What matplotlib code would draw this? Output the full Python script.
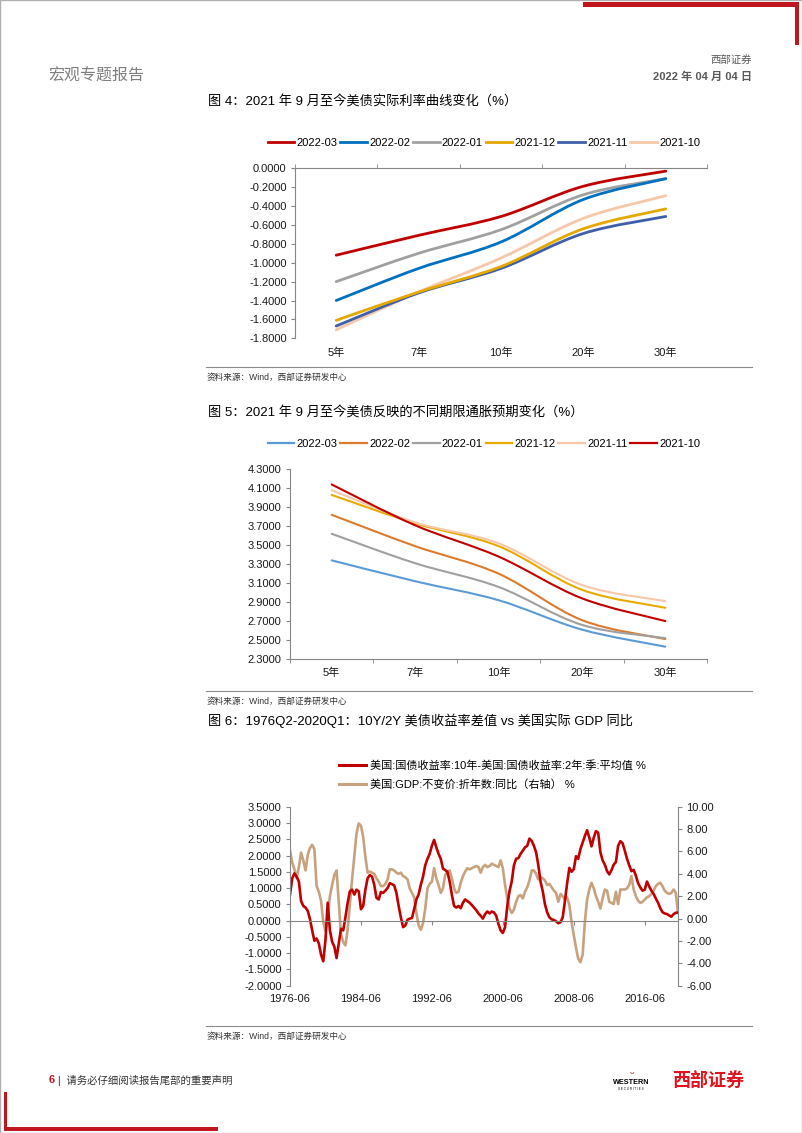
import numpy as np
import matplotlib.pyplot as plt
from matplotlib.path import Path
from matplotlib.patches import PathPatch, Rectangle
from matplotlib.lines import Line2D
from matplotlib.ticker import FormatStrFormatter, FuncFormatter

plt.rcParams['font.family'] = ['Liberation Sans', 'Noto Sans CJK SC']

W, H = 802, 1133

''' DATA '''

# chart 4: real yield curve by month
tenors = ['5年', '7年', '10年', '20年', '30年']
real_names = ['2022-03', '2022-02', '2022-01', '2021-12', '2021-11', '2021-10']
real_2203 = [-0.92, -0.71, -0.51, -0.19, -0.03]
real_2202 = [-1.40, -1.06, -0.78, -0.33, -0.11]
real_2201 = [-1.20, -0.90, -0.65, -0.28, -0.11]
real_2112 = [-1.61, -1.31, -1.04, -0.64, -0.43]
real_2111 = [-1.67, -1.32, -1.06, -0.69, -0.51]
real_2110 = [-1.71, -1.31, -0.95, -0.53, -0.29]
real_colors = ['#C00000', '#0070C0', '#A0A0A0', '#E5A800', '#3F5FAA', '#F7C7AA']

# chart 5: breakeven inflation by month
infl_names = ['2022-03', '2022-02', '2022-01', '2021-12', '2021-11', '2021-10']
infl_2203 = [3.34, 3.12, 2.92, 2.61, 2.43]
infl_2202 = [3.82, 3.49, 3.20, 2.71, 2.51]
infl_2201 = [3.62, 3.31, 3.06, 2.66, 2.52]
infl_2112 = [4.03, 3.73, 3.49, 3.03, 2.84]
infl_2111 = [4.08, 3.74, 3.52, 3.08, 2.91]
infl_2110 = [4.14, 3.71, 3.38, 2.94, 2.70]
infl_colors = ['#5B9BD5', '#DC7A2E', '#A0A0A0', '#E8AA00', '#F7C7AA', '#C00000']

# chart 6: quarterly 1976Q2 - 2020Q1
spread_10y2y = [
    0.80, 1.30, 1.45, 1.35, 1.20, 0.60, 0.45, 0.40, 0.30, 0.05,
    -0.30, -0.62, -0.55, -0.70, -1.05, -1.25, -0.60, 0.55, -0.30, -0.65,
    -0.80, -1.15, -0.70, -0.25, -0.30, 0.10, 0.55, 0.90, 0.95, 0.80,
    0.95, 0.90, 0.35, 0.45, 0.95, 1.30, 1.40, 1.35, 1.10, 0.70,
    0.65, 0.88, 0.85, 0.92, 1.00, 1.15, 1.12, 1.08, 0.85, 0.45,
    0.10, -0.20, -0.15, 0.03, 0.06, 0.08, 0.35, 0.65, 0.80, 1.10,
    1.35, 1.70, 1.90, 2.05, 2.30, 2.48, 2.25, 2.05, 1.90, 1.60,
    1.55, 1.50, 1.20, 0.80, 0.45, 0.40, 0.45, 0.38, 0.55, 0.65,
    0.60, 0.55, 0.48, 0.40, 0.32, 0.22, 0.15, 0.06, 0.20, 0.28,
    0.22, 0.28, 0.25, 0.15, -0.10, -0.30, -0.38, -0.20, 0.45, 0.90,
    1.20, 1.70, 1.90, 1.92, 2.05, 2.15, 2.25, 2.30, 2.52, 2.45,
    2.30, 2.10, 1.70, 1.20, 0.90, 0.50, 0.25, 0.10, 0.04, 0.02,
    -0.02, -0.08, -0.05, 0.10, 0.60, 1.15, 1.62, 1.50, 1.58, 1.98,
    1.90, 2.20, 2.40, 2.60, 2.78, 2.55, 2.28, 2.55, 2.75, 2.70,
    2.10, 1.85, 1.72, 1.52, 1.42, 1.55, 1.72, 1.80, 2.30, 2.44,
    2.38, 2.15, 1.90, 1.70, 1.52, 1.56, 1.38, 1.15, 1.02, 0.92,
    0.95, 1.20, 1.05, 0.92, 0.82, 0.68, 0.55, 0.38, 0.26, 0.22,
    0.20, 0.16, 0.12, 0.20, 0.24, 0.25,
]
gdp_yoy = [
    6.1, 5.0, 4.4, 3.6, 4.6, 5.9, 5.2, 4.3, 5.7, 6.3,
    6.6, 6.2, 2.9, 2.4, 1.6, -0.3, -1.1, 0.2, 2.0, 3.0,
    3.9, 4.3, 1.5, -1.4, -2.1, -2.4, -1.0, 1.3, 3.5, 5.5,
    7.6, 8.5, 8.3, 7.3, 5.5, 4.1, 4.2, 4.1, 4.0, 3.6,
    3.3, 2.9, 2.9, 3.1, 3.5, 4.4, 4.4, 4.3, 4.1, 4.0,
    4.1, 3.8, 3.7, 3.5, 2.7, 2.3, 1.9, 0.5, -0.6, -1.0,
    -0.4, 0.9, 2.7, 3.1, 3.3, 4.5, 3.6, 3.0, 2.3, 2.7,
    3.9, 4.2, 4.3, 3.6, 2.7, 2.3, 2.4, 3.2, 3.8, 4.2,
    4.5, 4.4, 4.5, 4.6, 4.7, 4.6, 4.1, 4.6, 4.8, 4.6,
    4.7, 4.9, 4.8, 4.7, 4.6, 5.2, 4.5, 3.0, 1.8, 0.9,
    0.5, 0.8, 1.5, 2.0, 2.1, 1.8, 2.4, 2.8, 3.4, 4.3,
    4.3, 4.0, 3.5, 3.7, 3.6, 3.4, 3.0, 3.1, 2.8, 2.5,
    2.3, 1.5, 2.2, 2.0, 1.7, 1.9, 1.2, -0.3, -1.5, -2.6,
    -3.6, -3.9, -3.2, -0.3, 1.7, 2.6, 3.2, 2.7, 2.0, 1.5,
    0.9, 1.8, 2.6, 2.5, 1.5, 1.4, 1.3, 2.4, 1.3, 2.6,
    2.6, 2.6, 2.7, 3.0, 3.8, 2.6, 2.0, 1.6, 1.4, 1.5,
    1.7, 1.9, 2.0, 2.2, 2.5, 2.9, 3.1, 3.2, 2.9, 2.5,
    2.3, 2.2, 2.3, 2.6, 2.3, 0.5,
]
date_labels = ['1976-06', '1984-06', '1992-06', '2000-06', '2008-06', '2016-06']
spread_name = '美国:国债收益率:10年-美国:国债收益率:2年:季:平均值 %'
gdp_name = '美国:GDP:不变价:折年数:同比（右轴） %'

AXC = '#868686'
TXT = '#1a1a1a'
four_dp = FuncFormatter(lambda v, _: f'{round(v, 4) + 0:.4f}')


def px_axes(fig, left, top, right, bottom):
    return fig.add_axes([left / W, 1 - bottom / H, (right - left) / W, (bottom - top) / H])


def smooth_path(xs, ys):
    # excel style smoothed line: cubic bezier through the points
    pts = np.column_stack([xs, ys]).astype(float)
    n = len(pts)
    verts = [pts[0]]
    codes = [Path.MOVETO]
    for i in range(n - 1):
        p0 = pts[i - 1] if i > 0 else pts[i]
        p1 = pts[i]
        p2 = pts[i + 1]
        p3 = pts[i + 2] if i + 2 < n else pts[i + 1]
        verts += [p1 + (p2 - p0) / 6, p2 - (p3 - p1) / 6, p2]
        codes += [Path.CURVE4] * 3
    return Path(verts, codes)


def category_axis(ax, zero_top):
    ax.set_xlim(-0.5, len(tenors) - 0.5)
    ax.set_xticks(range(len(tenors)))
    ax.set_xticklabels(tenors)
    ax.set_xticks(np.arange(len(tenors) + 1) - 0.5, minor=True)
    ax.tick_params(axis='x', which='major', bottom=False, top=False, labelbottom=True,
                   labelsize=8, colors=TXT, pad=3)
    ax.tick_params(axis='x', which='minor', bottom=not zero_top, top=zero_top,
                   direction='out', length=3, color=AXC)
    for s in ['top', 'bottom', 'right', 'left']:
        ax.spines[s].set_visible(False)
    ax.spines['left'].set_visible(True)
    ax.spines['top' if zero_top else 'bottom'].set_visible(True)
    for s in ax.spines.values():
        s.set_color(AXC)
        s.set_linewidth(0.8)
    ax.tick_params(axis='y', direction='out', length=3, color=AXC, labelsize=8,
                   labelcolor=TXT, pad=3)
    ax.yaxis.set_major_formatter(four_dp)


fig = plt.figure(figsize=(W / 100, H / 100), dpi=100)

''' PAGE DECORATION '''

fig.patches.append(Rectangle((0, 0), 1, 1, transform=fig.transFigure, fill=False,
                             edgecolor='#B0B0B0', lw=1.0))
fig.patches.append(Rectangle((583 / W, 1 - 7 / H), 216 / W, 5 / H, transform=fig.transFigure,
                             color='#C0161E', lw=0))
fig.patches.append(Rectangle((795 / W, 1 - 45 / H), 4 / W, 43 / H, transform=fig.transFigure,
                             color='#C0161E', lw=0))
fig.patches.append(Rectangle((4 / W, 1 - 1131 / H), 3 / W, 39 / H, transform=fig.transFigure,
                             color='#C0161E', lw=0))
fig.patches.append(Rectangle((4 / W, 1 - 1131 / H), 214 / W, 4 / H, transform=fig.transFigure,
                             color='#C0161E', lw=0))

fig.text(48 / W, 1 - 76 / H, '宏观专题报告', fontsize=11.5, color='#7F7F7F', va='center',
         family=['Noto Sans CJK SC'])
fig.text(752 / W, 1 - 60 / H, '西部证券', fontsize=7.5, color='#595959', va='center', ha='right')
fig.text(752 / W, 1 - 77 / H, '2022 年 04 月 04 日', fontsize=8, color='#595959', va='center',
         ha='right', weight='bold')

fig.text(208 / W, 1 - 102 / H, '图 4：2021 年 9 月至今美债实际利率曲线变化（%）',
         fontsize=9.5, color='black', va='center')
fig.text(208 / W, 1 - 413 / H, '图 5：2021 年 9 月至今美债反映的不同期限通胀预期变化（%）',
         fontsize=9.5, color='black', va='center')
fig.text(208 / W, 1 - 721 / H, '图 6：1976Q2-2020Q1：10Y/2Y 美债收益率差值 vs 美国实际 GDP 同比',
         fontsize=9.5, color='black', va='center')

for ly in [367, 691, 1026]:
    fig.add_artist(Line2D([206 / W, 752 / W], [1 - ly / H, 1 - ly / H], color='#8C8C8C', lw=0.8))
for sy in [377, 701, 1036]:
    fig.text(207 / W, 1 - sy / H, '资料来源：Wind，西部证券研发中心', fontsize=6.2,
             color='#333333', va='center')

fig.text(49 / W, 1 - 1080 / H, '6', fontsize=8, color='#C0161E', weight='bold', va='center')
fig.text(58 / W, 1 - 1080 / H, '|  请务必仔细阅读报告尾部的重要声明', fontsize=7.5, color='#333333',
         va='center')
fig.text(631 / W, 1 - 1083 / H, 'WESTERN', fontsize=5.2, color='black', weight='bold',
         va='center', ha='center')
fig.text(631 / W, 1 - 1089 / H, 'S E C U R I T I E S', fontsize=2.2, color='black',
         va='center', ha='center')
fig.text(632 / W, 1 - 1075 / H, 'ᵕ', fontsize=9, color='#C0161E', va='center', ha='center',
         family=['DejaVu Sans'])
fig.text(708 / W, 1 - 1080 / H, '西部证券', fontsize=13, color='#E0141E', weight='bold',
         va='center', ha='center', family=['Noto Sans CJK SC'])

''' CHART 4 '''

ax1 = px_axes(fig, 295, 168.3, 707, 338.3)
real_series = [real_2203, real_2202, real_2201, real_2112, real_2111, real_2110]
x = np.arange(len(tenors))
for vals, col in zip(real_series[::-1], real_colors[::-1]):
    ax1.add_patch(PathPatch(smooth_path(x, vals), fill=False, edgecolor=col, lw=2.0,
                            capstyle='round', joinstyle='round'))
ax1.set_ylim(-1.8, 0)
ax1.set_yticks(np.round(np.arange(-1.8, 0.01, 0.2), 1))
category_axis(ax1, zero_top=True)
h1 = [Line2D([], [], color=c, lw=2.0) for c in real_colors]
fig.legend(h1, real_names, loc='center', bbox_to_anchor=(484 / W, 1 - 143 / H), ncol=6,
           frameon=False, fontsize=8, handlelength=2.4, handletextpad=0.2, columnspacing=0.25,
           borderpad=0)

''' CHART 5 '''

ax2 = px_axes(fig, 290, 469.3, 707, 659)
infl_series = [infl_2203, infl_2202, infl_2201, infl_2112, infl_2111, infl_2110]
for vals, col in zip(infl_series, infl_colors):
    ax2.add_patch(PathPatch(smooth_path(x, vals), fill=False, edgecolor=col, lw=1.5,
                            capstyle='round', joinstyle='round'))
ax2.set_ylim(2.3, 4.3)
ax2.set_yticks(np.round(np.arange(2.3, 4.31, 0.2), 1))
category_axis(ax2, zero_top=False)
h2 = [Line2D([], [], color=c, lw=1.6) for c in infl_colors]
fig.legend(h2, infl_names, loc='center', bbox_to_anchor=(484 / W, 1 - 444 / H), ncol=6,
           frameon=False, fontsize=8, handlelength=2.4, handletextpad=0.2, columnspacing=0.25,
           borderpad=0)

''' CHART 6 '''

ax3 = px_axes(fig, 290, 806.7, 678, 985.7)
ax3r = ax3.twinx()
q = np.arange(len(spread_10y2y))
ax3.plot(q, spread_10y2y, color='#C00000', lw=1.9, solid_joinstyle='round')
ax3r.plot(np.arange(len(gdp_yoy)), gdp_yoy, color='#C8A27F', lw=1.9, solid_joinstyle='round')
ax3.set_zorder(ax3r.get_zorder() + 1)
ax3.patch.set_visible(False)

ax3.set_xlim(0, len(q) - 1)
ax3.set_ylim(-2.0, 3.5)
ax3.set_yticks(np.arange(-2.0, 3.51, 0.5))
ax3.yaxis.set_major_formatter(four_dp)
ax3r.set_ylim(-6, 10)
ax3r.set_yticks(np.arange(-6, 10.1, 2))
ax3r.yaxis.set_major_formatter(FormatStrFormatter('%.2f'))
ax3.set_xticks(np.arange(len(date_labels)) * 32)
ax3.set_xticklabels(date_labels)

ax3.spines['top'].set_position(('data', 0))
ax3.spines['bottom'].set_visible(False)
ax3.spines['right'].set_visible(False)
for s in ['top', 'bottom', 'left']:
    ax3r.spines[s].set_visible(False)
for s in list(ax3.spines.values()) + list(ax3r.spines.values()):
    s.set_color(AXC)
    s.set_linewidth(0.8)
ax3.tick_params(axis='x', bottom=False, top=True, labelbottom=True, labeltop=False,
                direction='in', length=3, color=AXC, labelsize=8, labelcolor=TXT, pad=6)
ax3.tick_params(axis='y', direction='out', length=3, color=AXC, labelsize=8, labelcolor=TXT, pad=3)
ax3r.tick_params(axis='y', direction='out', length=3, color=AXC, labelsize=8, labelcolor=TXT, pad=3)

h3 = [Line2D([], [], color='#C00000', lw=2.2), Line2D([], [], color='#C8A27F', lw=2.2)]
fig.legend(h3, [spread_name, gdp_name], loc='upper left', bbox_to_anchor=(333 / W, 1 - 755 / H),
           ncol=1, frameon=False, fontsize=8, handlelength=2.5, handletextpad=0.3,
           labelspacing=0.7, borderpad=0)

plt.savefig('out.png', dpi=100)
